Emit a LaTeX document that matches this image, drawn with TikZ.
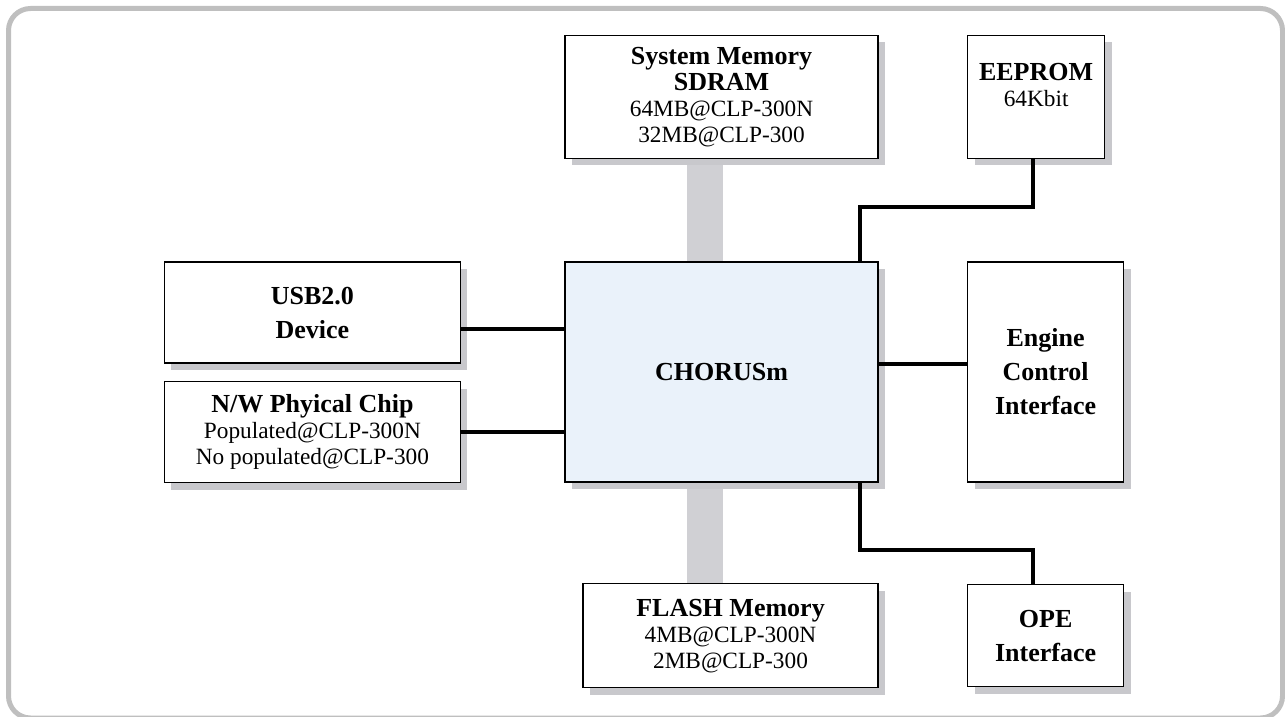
\documentclass[tikz,border=0pt]{standalone}
\usepackage{fontspec}
\setmainfont{Liberation Serif}
\usetikzlibrary{positioning,shadows,backgrounds}
\definecolor{framegray}{RGB}{191,191,191}
\definecolor{busgray}{RGB}{208,208,212}
\definecolor{shadowgray}{RGB}{200,200,204}
\definecolor{chipblue}{RGB}{234,242,250}
\newcommand{\hd}{\fontsize{26}{27}\selectfont\bfseries}
\newcommand{\hdl}{\fontsize{26}{34}\selectfont\bfseries}
\newcommand{\tx}{\fontsize{23.3}{26}\selectfont\mdseries}
\tikzset{
  block/.style = {rectangle, draw=black, line width=1.6pt, fill=white,
    align=center, inner sep=0pt, font=\tx,
    drop shadow={shadow xshift=7pt, shadow yshift=-7pt, fill=shadowgray, opacity=1}},
  line/.style = {draw, line width=4pt},
  bus/.style = {draw=busgray, line width=36pt},
}

\begin{document}
\begin{tikzpicture}[x=1pt, y=-1pt]
  \clip (0,0) rectangle (1285,717);
  \draw [framegray, line width=5pt, rounded corners=22pt] (8.5,8.5) rectangle (1282.5,718);
  % chip and memories
  \node [block, fill=chipblue, minimum width=313pt, minimum height=220pt, font=\hdl] (chorus) at (721.5,372) {CHORUSm};
  \node [block, minimum width=313pt, minimum height=123pt, above=102pt of chorus] (sdram)
    {\hd System Memory\\ \hd SDRAM\\ 64MB@CLP-300N\\ 32MB@CLP-300};
  \node [block, minimum width=295pt, minimum height=104pt, below=100pt of chorus, xshift=9pt] (flash)
    {\hd FLASH Memory\\ 4MB@CLP-300N\\ 2MB@CLP-300};
  % left side
  \node [block, minimum width=296pt, minimum height=101pt, font=\hdl, left=103pt of chorus.north west, anchor=north east] (usb)
    {USB2.0\\ Device};
  \node [block, minimum width=296pt, minimum height=101pt, below=17pt of usb] (nw)
    {\hd N/W Phyical Chip\\ Populated@CLP-300N\\ No populated@CLP-300};
  % right side
  \node [block, minimum width=156pt, minimum height=220pt, font=\hdl, right=88pt of chorus] (engine)
    {Engine\\ Control\\ Interface};
  \node [block, minimum width=137pt, minimum height=123pt, above=102pt of engine.north west, anchor=south west] (eeprom)
    {\hd EEPROM\\ 64Kbit\\[-2pt] \mbox{}};
  \node [block, minimum width=156pt, minimum height=102pt, font=\hdl, below=101pt of engine] (ope)
    {OPE\\ Interface};
  \coordinate (busx) at (705,0);
  \coordinate (tapx) at (860,0);
  \coordinate (rightx) at (1033,0);
  \coordinate (usbtap) at (0,329);
  \coordinate (engtap) at (0,364);
  \begin{scope}[on background layer]
    \path [bus] (sdram.south -| busx) -- (chorus.north -| busx);
    \path [bus] (chorus.south -| busx) -- (flash.north -| busx);
  \end{scope}
  \path [line] (usb.east |- usbtap) -- (chorus.west |- usbtap);
  \path [line] (nw.east) -- (chorus.west |- nw.east);
  \path [line] (chorus.east |- engtap) -- (engine.west |- engtap);
  \path [line] (eeprom.south -| rightx) -- ++(0,48) -| (chorus.north -| tapx);
  \path [line] (chorus.south -| tapx) -- ++(0,67) -| (ope.north -| rightx);
\end{tikzpicture}
\end{document}
